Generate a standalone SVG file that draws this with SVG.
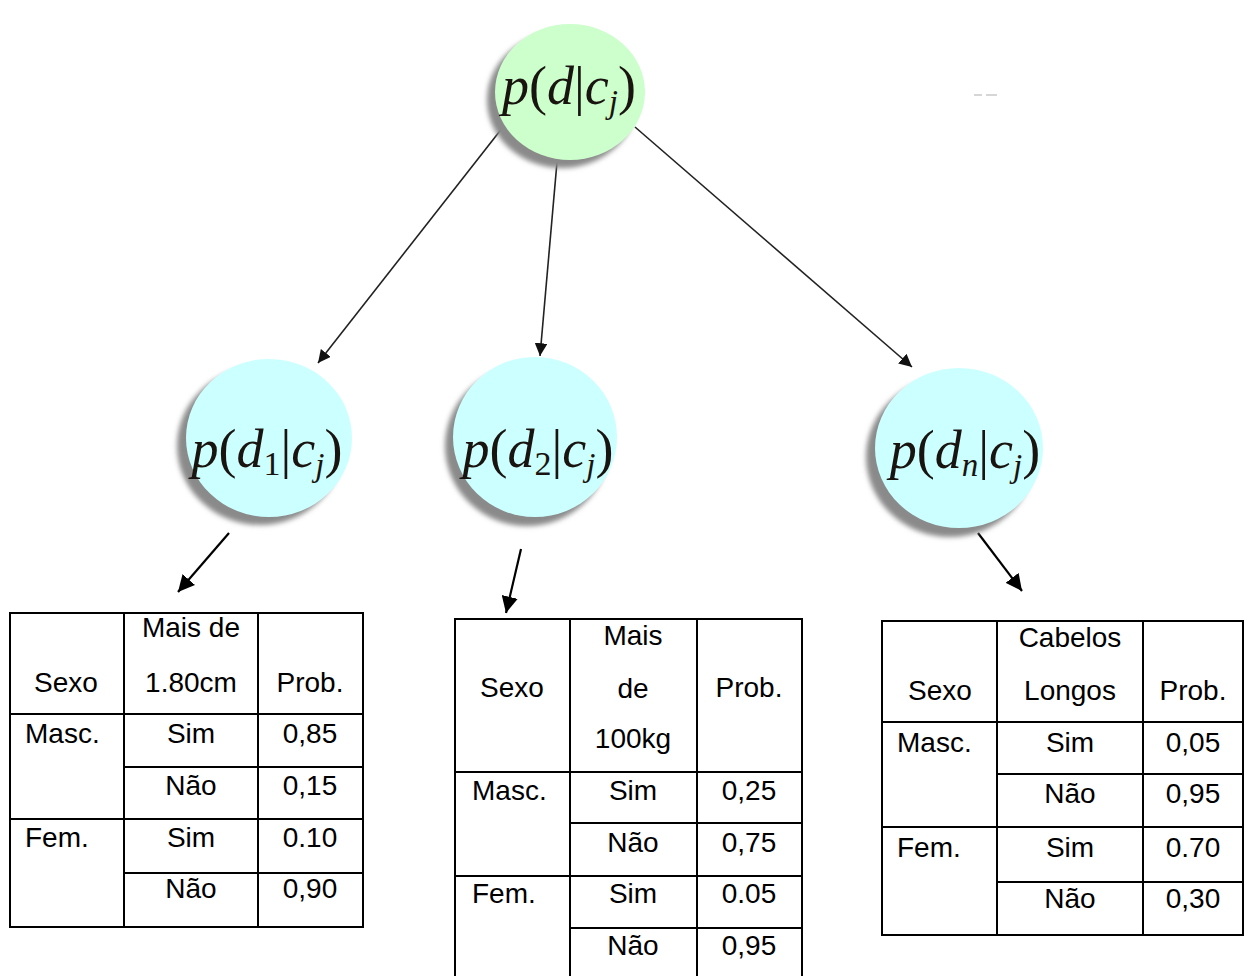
<svg xmlns="http://www.w3.org/2000/svg" width="1250" height="976" viewBox="0 0 1250 976">
<style>
.shadow{fill:#8a8a8a;filter:url(#blur)}
.green{fill:#ccffcc}
.cyan{fill:#ccffff}
.math{font-family:"Liberation Serif","Times New Roman",serif;font-size:54px;fill:#1a1410;text-anchor:middle}
.it{font-style:italic}
.sub{font-style:italic;font-size:33px}
.edge{stroke:#222;stroke-width:1.6;fill:none}
.edge2{stroke:#000;stroke-width:2.2;fill:none}
.grid{stroke:#000;stroke-width:2;fill:none}
.t{font-family:"Liberation Sans",Arial,sans-serif;font-size:28px;fill:#000}
.c{text-anchor:middle}
</style>
<defs>
<filter id="blur" x="-20%" y="-20%" width="140%" height="140%"><feGaussianBlur stdDeviation="2.5"/></filter>
<marker id="ah" viewBox="0 0 10 10" refX="10" refY="5" markerWidth="8" markerHeight="8" orient="auto" markerUnits="strokeWidth"><path d="M0,0 L10,5 L0,10 z" fill="#111"/></marker>
<marker id="ah2" viewBox="0 0 10 10" refX="10" refY="5" markerWidth="7.5" markerHeight="7.5" orient="auto" markerUnits="strokeWidth"><path d="M0,0 L10,5 L0,10 z" fill="#000"/></marker>
</defs>
<rect width="1250" height="976" fill="#fff"/>

<g id="connectors">
<line class="edge" x1="503" y1="127" x2="318" y2="363" marker-end="url(#ah)"/>
<line class="edge" x1="557" y1="162" x2="540" y2="356" marker-end="url(#ah)"/>
<line class="edge" x1="635" y1="127" x2="912" y2="367" marker-end="url(#ah)"/>
<line class="edge2" x1="229" y1="533" x2="178" y2="592" marker-end="url(#ah2)"/>
<line class="edge2" x1="521" y1="549" x2="506" y2="613" marker-end="url(#ah2)"/>
<line class="edge2" x1="978" y1="533" x2="1022" y2="591" marker-end="url(#ah2)"/>
</g>

<g id="node-root">
<ellipse class="shadow" cx="562" cy="100" rx="75" ry="68"/>
<ellipse class="green" cx="570" cy="92" rx="75" ry="68"/>
<text class="math" x="569" y="104"><tspan class="it">p</tspan>(<tspan class="it">d</tspan>|<tspan class="it">c</tspan><tspan class="sub" dy="9">j</tspan><tspan dy="-9">)</tspan></text>
</g>

<g id="node-d1">
<ellipse class="shadow" cx="260" cy="446" rx="83" ry="79"/>
<ellipse class="cyan" cx="269" cy="438" rx="83" ry="79"/>
<text class="math" x="267" y="467"><tspan class="it">p</tspan>(<tspan class="it">d</tspan><tspan font-size="34" dy="8">1</tspan><tspan dy="-8">|</tspan><tspan class="it">c</tspan><tspan class="sub" dy="9">j</tspan><tspan dy="-9">)</tspan></text>
</g>

<g id="node-d2">
<ellipse class="shadow" cx="527" cy="446" rx="82" ry="80"/>
<ellipse class="cyan" cx="535" cy="437" rx="82" ry="80"/>
<text class="math" x="538" y="467"><tspan class="it">p</tspan>(<tspan class="it">d</tspan><tspan font-size="34" dy="8">2</tspan><tspan dy="-8">|</tspan><tspan class="it">c</tspan><tspan class="sub" dy="9">j</tspan><tspan dy="-9">)</tspan></text>
</g>

<g id="node-dn">
<ellipse class="shadow" cx="950" cy="457" rx="84" ry="80"/>
<ellipse class="cyan" cx="959" cy="448" rx="84" ry="80"/>
<text class="math" x="965" y="468"><tspan class="it">p</tspan>(<tspan class="it">d</tspan><tspan class="sub" font-size="34" dy="8">n</tspan><tspan dy="-8">|</tspan><tspan class="it">c</tspan><tspan class="sub" dy="9">j</tspan><tspan dy="-9">)</tspan></text>
</g>

<g id="mark">
<line x1="974" y1="95" x2="982" y2="95" stroke="#c8c8c8" stroke-width="1.5"/>
<line x1="986" y1="95" x2="997" y2="95" stroke="#c8c8c8" stroke-width="1.5"/>
</g>

<g id="table1">
<rect class="grid" x="10" y="613" width="353" height="314"/>
<line class="grid" x1="124" y1="613" x2="124" y2="927"/>
<line class="grid" x1="258" y1="613" x2="258" y2="927"/>
<line class="grid" x1="10" y1="714" x2="363" y2="714"/>
<line class="grid" x1="124" y1="767" x2="363" y2="767"/>
<line class="grid" x1="10" y1="819" x2="363" y2="819"/>
<line class="grid" x1="124" y1="873" x2="363" y2="873"/>
<text class="t c" x="191" y="637">Mais de</text>
<text class="t c" x="66" y="692">Sexo</text>
<text class="t c" x="191" y="692">1.80cm</text>
<text class="t c" x="310" y="692">Prob.</text>
<text class="t" x="25" y="743">Masc.</text>
<text class="t c" x="191" y="743">Sim</text>
<text class="t c" x="310" y="743">0,85</text>
<text class="t c" x="191" y="795">Não</text>
<text class="t c" x="310" y="795">0,15</text>
<text class="t" x="25" y="847">Fem.</text>
<text class="t c" x="191" y="847">Sim</text>
<text class="t c" x="310" y="847">0.10</text>
<text class="t c" x="191" y="898">Não</text>
<text class="t c" x="310" y="898">0,90</text>
</g>

<g id="table2">
<rect class="grid" x="455" y="619" width="347" height="364"/>
<line class="grid" x1="570" y1="619" x2="570" y2="983"/>
<line class="grid" x1="697" y1="619" x2="697" y2="983"/>
<line class="grid" x1="455" y1="772" x2="802" y2="772"/>
<line class="grid" x1="570" y1="823" x2="802" y2="823"/>
<line class="grid" x1="455" y1="876" x2="802" y2="876"/>
<line class="grid" x1="570" y1="928" x2="802" y2="928"/>
<text class="t c" x="633" y="645">Mais</text>
<text class="t c" x="512" y="697">Sexo</text>
<text class="t c" x="633" y="698">de</text>
<text class="t c" x="749" y="697">Prob.</text>
<text class="t c" x="633" y="748">100kg</text>
<text class="t" x="472" y="800">Masc.</text>
<text class="t c" x="633" y="800">Sim</text>
<text class="t c" x="749" y="800">0,25</text>
<text class="t c" x="633" y="852">Não</text>
<text class="t c" x="749" y="852">0,75</text>
<text class="t" x="472" y="903">Fem.</text>
<text class="t c" x="633" y="903">Sim</text>
<text class="t c" x="749" y="903">0.05</text>
<text class="t c" x="633" y="955">Não</text>
<text class="t c" x="749" y="955">0,95</text>
</g>

<g id="table3">
<rect class="grid" x="882" y="621" width="361" height="314"/>
<line class="grid" x1="997" y1="621" x2="997" y2="935"/>
<line class="grid" x1="1143" y1="621" x2="1143" y2="935"/>
<line class="grid" x1="882" y1="722" x2="1243" y2="722"/>
<line class="grid" x1="997" y1="774" x2="1243" y2="774"/>
<line class="grid" x1="882" y1="827" x2="1243" y2="827"/>
<line class="grid" x1="997" y1="882" x2="1243" y2="882"/>
<text class="t c" x="1070" y="647">Cabelos</text>
<text class="t c" x="940" y="700">Sexo</text>
<text class="t c" x="1070" y="700">Longos</text>
<text class="t c" x="1193" y="700">Prob.</text>
<text class="t" x="897" y="752">Masc.</text>
<text class="t c" x="1070" y="752">Sim</text>
<text class="t c" x="1193" y="752">0,05</text>
<text class="t c" x="1070" y="803">Não</text>
<text class="t c" x="1193" y="803">0,95</text>
<text class="t" x="897" y="857">Fem.</text>
<text class="t c" x="1070" y="857">Sim</text>
<text class="t c" x="1193" y="857">0.70</text>
<text class="t c" x="1070" y="908">Não</text>
<text class="t c" x="1193" y="908">0,30</text>
</g>
</svg>
